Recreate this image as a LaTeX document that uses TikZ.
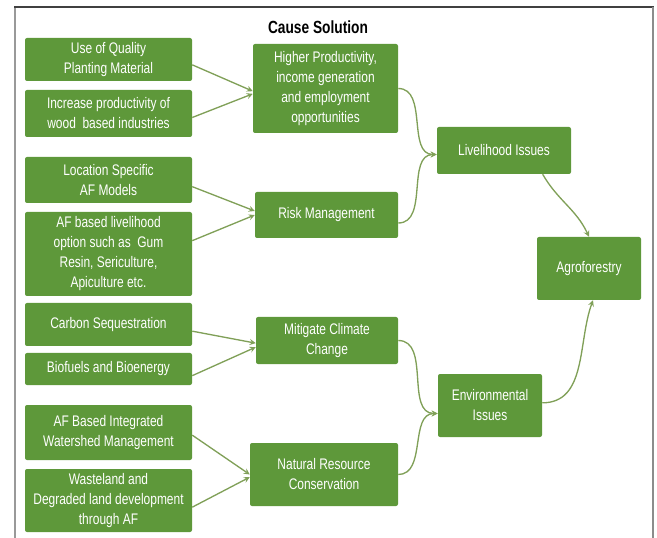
\documentclass[tikz,border=0pt]{standalone}
\usepackage{fontspec}
\setmainfont[FakeStretch=0.78]{Liberation Sans}
\usepackage{tikz}
\usepackage{xcolor}

\definecolor{boxgreen}{RGB}{94,152,58}
\definecolor{arrowgreen}{RGB}{128,160,88}

\begin{document}
\begin{tikzpicture}[
    x=0.75pt, y=-0.75pt,
    box/.style={rectangle, rounded corners=1.5pt, fill=boxgreen, text=white, align=center, inner sep=0pt, font=\fontsize{11.5}{15}\selectfont},
    arrow/.style={->, >=stealth, line width=1pt, arrowgreen},
    curved/.style={arrow, out=0, in=180}
]
    \useasboundingbox (0,0) rectangle (657,538);

    % Frame
    \draw[gray!80, line width=1pt] (15,538) -- (15,7);
    \draw[black!75, line width=1pt] (14,7) -- (654,7);
    \draw[gray!90, line width=2pt] (653,7) -- (653,538);

    % Title
    \node[font=\bfseries\fontsize{13.2}{15}\selectfont] (title) at (318,27) {Cause Solution};

    % Left column: causes
    \node[box, minimum width=125.25pt, minimum height=32.25pt] (quality) at (108.5,59.5) {Use of Quality\\Planting Material};
    \node[box, minimum width=125.25pt, minimum height=35.25pt] (wood) at (108.5,113.5) {Increase productivity of\\wood\ \ based industries};
    \node[box, minimum width=125.25pt, minimum height=34.5pt] (location) at (108.5,180) {Location Specific\\AF Models};
    \node[box, minimum width=125.25pt, minimum height=63pt] (option) at (108.5,254) {AF based livelihood\\option such as\ \ Gum\\Resin, Sericulture,\\Apiculture etc.};
    \node[box, minimum width=125.25pt, minimum height=32.25pt] (carbon) at (108.5,324.5) {Carbon Sequestration};
    \node[box, minimum width=125.25pt, minimum height=24pt] (biofuel) at (108.5,369) {Biofuels and Bioenergy};
    \node[box, minimum width=125.25pt, minimum height=41.25pt] (watershed) at (108.5,432.5) {AF Based Integrated\\Watershed Management};
    \node[box, minimum width=125.25pt, minimum height=47.25pt] (wasteland) at (108.5,500.5) {Wasteland and\\Degraded land development\\through AF};

    % Middle column: solutions
    \node[box, minimum width=108.75pt, minimum height=66.75pt] (income) at (325.5,88.5) {Higher Productivity,\\income generation\\and employment\\opportunities};
    \node[box, minimum width=107.25pt, minimum height=34.5pt] (risk) at (326.5,215) {Risk Management};
    \node[box, minimum width=106.5pt, minimum height=35.25pt] (climate) at (327,340.5) {Mitigate Climate\\Change};
    \node[box, minimum width=111pt, minimum height=47.25pt] (resource) at (324,474.5) {Natural Resource\\Conservation};

    % Right: issues and goal
    \node[box, minimum width=100.5pt, minimum height=35.25pt] (livelihood) at (504,150.5) {Livelihood Issues};
    \node[box, minimum width=78pt, minimum height=47.25pt] (environment) at (490,405.5) {Environmental\\Issues};
    \node[box, minimum width=78pt, minimum height=47.25pt] (agro) at (589,268.5) {Agroforestry};

    % Causes to solutions
    \draw[arrow] ([yshift=-4pt]quality.east) -- ([yshift=-2pt]income.west);
    \draw[arrow] ([yshift=-3pt]wood.east) -- ([yshift=-4pt]income.west);
    \draw[arrow] ([yshift=-5pt]location.east) -- ([yshift=3pt]risk.west);
    \draw[arrow] ([yshift=10pt]option.east) -- ([yshift=0pt]risk.west);
    \draw[arrow] ([yshift=-5pt]carbon.east) -- ([yshift=-2pt]climate.west);
    \draw[arrow] ([yshift=-5pt]biofuel.east) -- ([yshift=-5pt]climate.west);
    \draw[arrow] ([yshift=-2pt]watershed.east) -- ([yshift=0pt]resource.west);
    \draw[arrow] ([yshift=-5pt]wasteland.east) -- ([yshift=-2pt]resource.west);

    % Solutions to issues
    \draw[curved] (income.east) to ([yshift=-3pt]livelihood.west);
    \draw[curved] ([yshift=-6pt]risk.east) to ([yshift=-3pt]livelihood.west);
    \draw[curved] (climate.east) to ([yshift=-6pt]environment.west);
    \draw[curved] (resource.east) to ([yshift=-6pt]environment.west);

    % Issues to agroforestry
    \draw[arrow] ([xshift=29pt]livelihood.south) to[out=-60, in=115] (agro.north);
    \draw[arrow] ([yshift=2pt]environment.east) to[out=0, in=-110] ([xshift=3pt]agro.south);
\end{tikzpicture}
\end{document}
